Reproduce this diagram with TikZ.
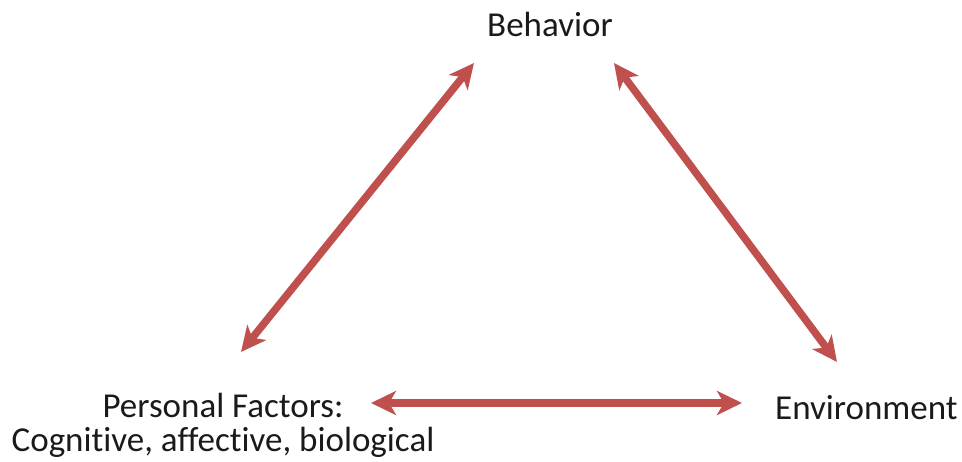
\documentclass[tikz,border=0pt]{standalone}
\usepackage{fontspec}
\setmainfont{Carlito}[Ligatures=NoCommon]
\usetikzlibrary{arrows.meta}
\definecolor{arrowred}{HTML}{C0504D}
\definecolor{txt}{HTML}{1A1A1A}
\begin{document}
\begin{tikzpicture}[x=1pt,y=-1pt,
  lbl/.style={inner sep=0pt,text=txt,font=\fontsize{35}{35}\selectfont},
  rel/.style={draw=arrowred,line width=7.5pt,
    {Stealth[length=25pt,width=24pt,inset=7pt]}-{Stealth[length=25pt,width=24pt,inset=7pt]}}]
\useasboundingbox (0,0) rectangle (962,462);
\node[lbl,anchor=base] (beh) at (550,37) {Behavior};
\node[lbl,anchor=base,align=center] (pers) at (223,452) {Personal Factors:\\Cognitive, affective, biological};
\node[lbl,anchor=base west] (env) at (775,420) {Environment};
\coordinate (bl) at (474,63);
\coordinate (br) at (614,63);
\coordinate (pt) at (241,352);
\coordinate (pr) at (371,403);
\coordinate (el) at (742,403);
\coordinate (et) at (837,362);
\draw[rel] (pt) -- (bl);
\draw[rel] (br) -- (et);
\draw[rel] (pr) -- (el);
\end{tikzpicture}
\end{document}
